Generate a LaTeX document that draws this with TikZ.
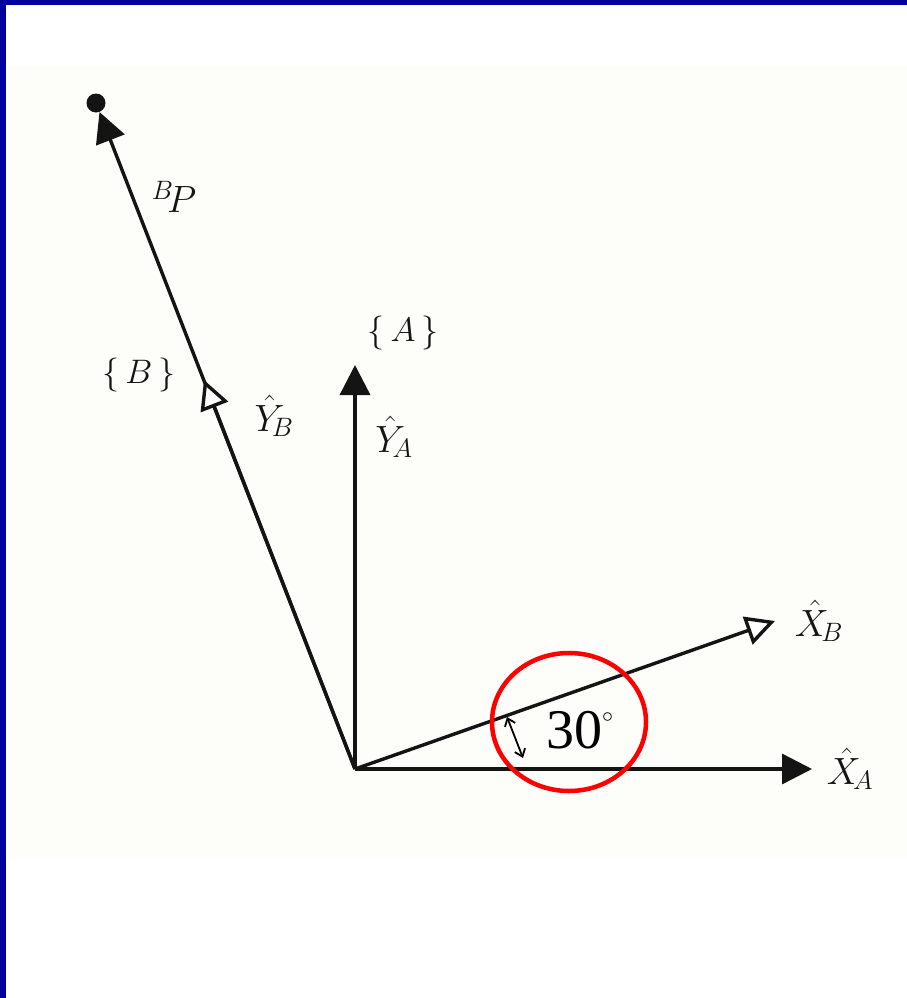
\RequirePackage{fix-cm}
\documentclass[tikz,border=0pt]{standalone}
\usepackage{fontspec}
\newfontfamily\timesfont{Liberation Serif}
\usetikzlibrary{arrows.meta}
\definecolor{slideblue}{RGB}{0,0,160}
\definecolor{scanpaper}{RGB}{253,253,250}
\definecolor{ink}{RGB}{20,20,20}
\tikzset{
  axis/.style={draw=ink, line width=3.4pt},
  solidtip/.style={axis, -{Triangle[length=30pt,width=30pt]}},
  opentip/.style={axis, -{Triangle[open,fill=white,length=29pt,width=29pt,line width=3.4pt]}},
  lbl/.style={text=ink, font=\fontsize{38}{44}\selectfont, inner sep=0pt},
}
\begin{document}
\begin{tikzpicture}[x=1pt,y=-1pt]
\useasboundingbox (0,0) rectangle (907,998);
\fill[white] (0,0) rectangle (907,998);
\fill[scanpaper] (6,65) rectangle (907,857);
\fill[slideblue] (0,0) rectangle (907,5);
\fill[slideblue] (0,0) rectangle (6,998);

\coordinate (O) at (355,769);
\coordinate (XA) at (812,769);
\coordinate (YA) at (355,365);
\coordinate (XB) at (775,621);
\coordinate (YB) at (204,380);
\node[circle, fill=ink, inner sep=0pt, minimum size=19pt] (P) at (96,103) {};

\draw[solidtip] (O) -- (P);
\draw[solidtip] (O) -- (XA);
\draw[solidtip] (O) -- (YA);
\draw[opentip] (O) -- (XB);
\draw[opentip] (O) -- (YB);

\node[lbl] (lXA) at (850,769) {$\hat{X}_{\!A}$};
\node[lbl] (lXB) at (819,621) {$\hat{X}_{\!B}$};
\node[lbl] (lYA) at (394,437) {$\hat{Y}_{\!A}$};
\node[lbl] (lYB) at (274,416) {$\hat{Y}_{\!B}$};
\node[lbl, font=\fontsize{34}{40}\selectfont] (lA) at (403,333) {$\{\,A\,\}$};
\node[lbl, font=\fontsize{34}{40}\selectfont] (lB) at (139,375) {$\{\,B\,\}$};
\node[lbl] (lP) at (174,197) {${}^{B}\!P$};

\draw[red, line width=4.5pt] (569,722) ellipse [x radius=77, y radius=69];
\coordinate (d1) at (507,717);
\coordinate (d2) at (523,758);
\draw[black, line width=1.8pt, {Straight Barb[length=7pt,width=11pt]}-{Straight Barb[length=7pt,width=11pt]}] (d1) -- (d2);
\node[inner sep=0pt, anchor=base west] (ang) at (546,748) {\fontsize{56}{60}\selectfont\timesfont 30\raisebox{26pt}{\fontsize{22}{24}\selectfont$\circ$}};
\end{tikzpicture}
\end{document}
